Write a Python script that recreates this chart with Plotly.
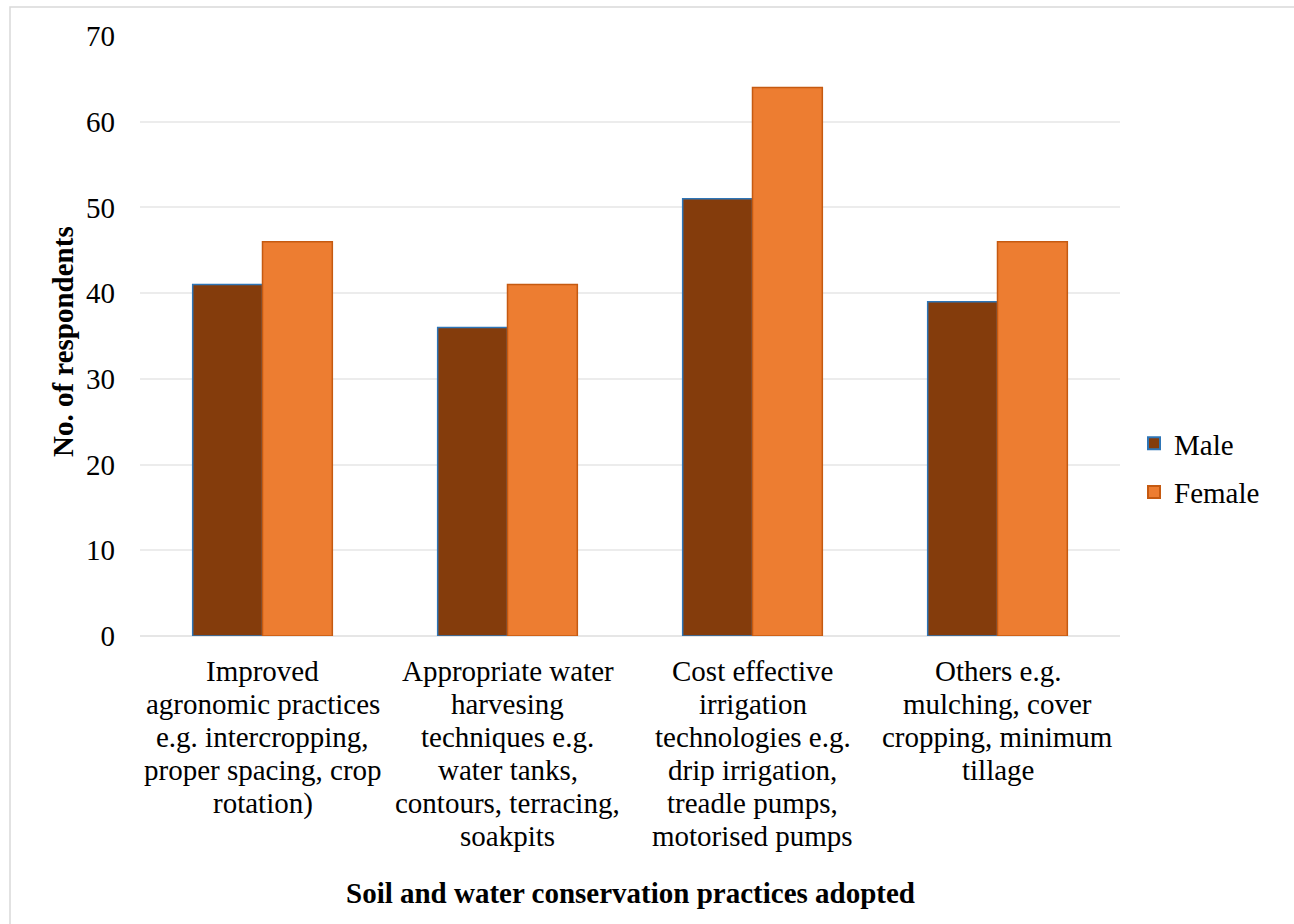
import plotly.graph_objects as go

categories = [
    "Improved<br>agronomic practices<br>e.g. intercropping,<br>proper spacing, crop<br>rotation)",
    "Appropriate water<br>harvesing<br>techniques e.g.<br>water tanks,<br>contours, terracing,<br>soakpits",
    "Cost effective<br>irrigation<br>technologies e.g.<br>drip irrigation,<br>treadle pumps,<br>motorised pumps",
    "Others e.g.<br>mulching, cover<br>cropping, minimum<br>tillage",
]
male = [41, 36, 51, 39]
female = [46, 41, 64, 46]
y_ticks = [0, 10, 20, 30, 40, 50, 60, 70]
x_title = "Soil and water conservation practices adopted"
y_title = "No. of respondents"

FONT = "Liberation Serif, Times New Roman, serif"
FS = 29

fig = go.Figure()
fig.add_trace(go.Bar(
    name="Male", x=categories, y=male, legendgroup="m",
    marker=dict(color="#843C0C", line=dict(color="#2E75B6", width=1.5)),
))
fig.add_trace(go.Bar(
    name="Female", x=categories, y=female, legendgroup="f",
    marker=dict(color="#ED7D31", line=dict(color="#C55A11", width=1.5)),
))

annotations = []
for cat in categories:
    for j, line in enumerate(cat.split("<br>")):
        annotations.append(dict(
            x=cat, xref="x", y=0, yref="y", yanchor="middle", xanchor="center",
            yshift=-(35 + 33 * j), text=line, showarrow=False,
            font=dict(family=FONT, size=FS, color="black"),
        ))
annotations.append(dict(
    x=0.5, xref="paper", y=(636 - 893) / 600, yref="paper",
    xanchor="center", yanchor="middle", showarrow=False,
    text="<b>" + x_title + "</b>", font=dict(family=FONT, size=FS, color="black"),
))
annotations.append(dict(
    x=(63 - 140) / 980, xref="paper", y=(636 - 342) / 600, yref="paper",
    xanchor="center", yanchor="middle", showarrow=False, textangle=-90,
    text="<b>" + y_title + "</b>", font=dict(family=FONT, size=FS, color="black"),
))

fig.update_layout(
    width=1294, height=924,
    margin=dict(l=140, r=174, t=36, b=288),
    paper_bgcolor="white", plot_bgcolor="white",
    barmode="group", bargap=0.43, bargroupgap=0,
    font=dict(family=FONT, size=FS, color="black"),
    showlegend=True,
    legend=dict(x=(1134 - 140) / 980, y=(636 - 468) / 600, xanchor="left", yanchor="middle",
                font=dict(family=FONT, size=FS, color="black"),
                itemwidth=30, traceorder="grouped", tracegroupgap=8,
                itemsizing="constant"),
    xaxis=dict(showgrid=False, showline=False, ticks="", showticklabels=False),
    yaxis=dict(range=[0, 70], tickvals=y_ticks, showgrid=True,
               gridcolor="#ececec", gridwidth=1.5, zeroline=True,
               zerolinecolor="#e6e6e6", zerolinewidth=1.5,
               showline=False, ticks="", ticklabelstandoff=24,
               tickfont=dict(family=FONT, size=FS, color="black")),
    annotations=annotations,
    shapes=[dict(type="rect", xref="paper", yref="paper",
                 x0=-130 / 980, x1=1170 / 980, y0=-300 / 600, y1=629 / 600,
                 line=dict(color="#d9d9d9", width=1.5), layer="below")],
)

fig.write_html("out.html")
